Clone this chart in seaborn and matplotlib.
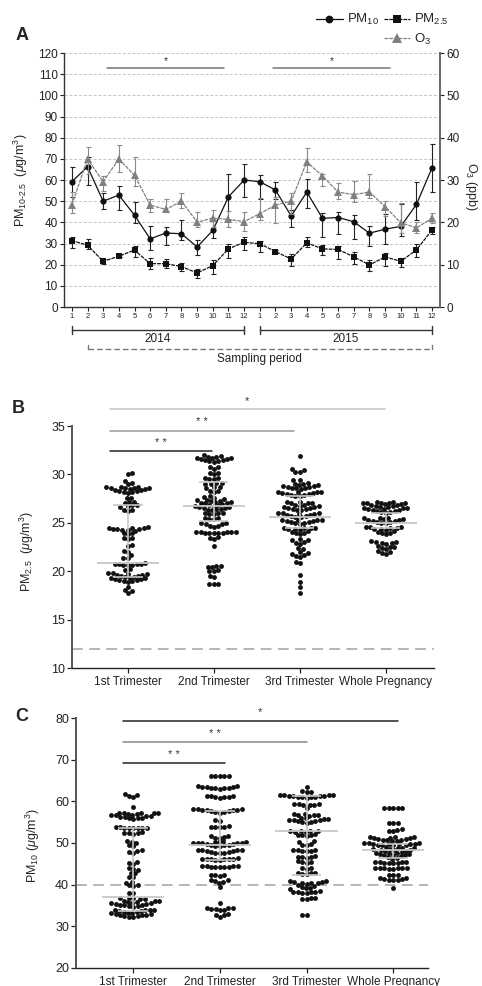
import warnings
warnings.filterwarnings('ignore')
import matplotlib
matplotlib.use('Agg')
import matplotlib.pyplot as plt
from matplotlib.lines import Line2D
import numpy as np
import pandas as pd
import seaborn as sns

# ---------------- Panel A data ----------------
months = list(range(1, 25))
month_labels = [str(m) for m in range(1, 13)] * 2
pm10 = [59.2, 66.3, 50.0, 52.9, 43.4, 32.2, 35.0, 34.6, 28.4, 36.2, 52.1, 60.0,
        59.2, 55.3, 43.0, 54.3, 41.9, 42.3, 40.3, 34.9, 36.8, 38.1, 48.5, 65.9]
pm10_lo = [52, 57.5, 46.5, 46, 39.5, 27, 29.5, 31.5, 24.5, 32.5, 41, 52,
           51, 51, 38, 47, 33, 34.5, 32, 29, 30, 33.5, 41, 54.5]
pm10_hi = [66, 71, 54, 57, 49.5, 38.5, 38, 41, 31.5, 41, 63, 67.5,
           62.5, 59, 46, 60.5, 44.5, 45, 43.5, 38.5, 44, 48.5, 59, 77]
pm25 = [31.4, 29.2, 21.6, 24.0, 26.9, 20.5, 20.5, 19.1, 16.1, 19.6, 27.5, 30.6,
        29.9, 26.2, 22.7, 30.3, 27.5, 27.2, 23.7, 19.9, 23.7, 21.6, 27.0, 36.5]
pm25_lo = [28, 27.5, 20.5, 23.5, 23.5, 18, 18.5, 17, 13.5, 15.5, 23, 27,
           26, 25.5, 19.5, 28.5, 24.5, 22.5, 20.5, 17, 19.5, 19, 23.5, 34.5]
pm25_hi = [33, 32, 22.5, 25, 29, 23, 22.5, 21, 18, 22, 30, 33,
           31, 27, 25, 33, 29.5, 29, 26, 22, 25.5, 23, 30, 38]
o3 = [24.1, 35.0, 29.6, 35.0, 31.1, 24.1, 23.05, 25.0, 20.05, 21.0, 20.7, 20.2,
      22.05, 24.1, 25.0, 34.3, 30.95, 27.15, 26.55, 27.15, 23.7, 19.9, 18.7, 21.0]
o3_lo = [22.2, 31.5, 27.5, 32.0, 28.5, 22.5, 22.5, 23.5, 18.8, 19.0, 18.8, 18.0,
         20.5, 19.8, 22.0, 32.0, 28.5, 25.5, 24.8, 25.8, 21.5, 17.5, 17.5, 19.8]
o3_hi = [27.2, 37.8, 31.0, 38.2, 35.5, 25.5, 25.5, 27.0, 22.5, 23.0, 22.8, 22.5,
         25.8, 26.0, 27.0, 37.5, 31.5, 29.2, 29.8, 31.5, 25.0, 24.5, 20.2, 22.2]

# ---------------- Panel B / C data ----------------
cats = ['1st Trimester', '2nd Trimester', '3rd Trimester', 'Whole Pregnancy']

b_t1 = [30.0, 30.1, 29.3, 29.1, 29.0,
        28.1, 28.15, 28.2, 28.25, 28.3, 28.35, 28.4, 28.45, 28.5, 28.55, 28.6, 28.62, 28.65, 28.68, 28.7, 28.7,
        27.6, 27.6, 27.2, 27.2, 27.0, 26.8, 26.8, 26.7, 26.6, 26.3, 26.3, 26.2,
        24.2, 24.3, 24.3, 24.35, 24.4, 24.4, 24.45, 24.5, 24.5, 24.6,
        23.9, 23.9, 23.8, 23.4, 23.4, 23.3, 22.7, 22.6, 22.1, 22.0, 21.7, 21.4, 21.4,
        20.6, 20.6, 20.65, 20.7, 20.7, 20.7, 20.75, 20.8,
        20.2, 20.1,
        18.9, 18.95, 19.0, 19.05, 19.1, 19.15, 19.2, 19.25, 19.3, 19.35, 19.4, 19.45, 19.5, 19.55,
        19.6, 19.65, 19.7, 19.75, 19.8, 19.8,
        18.4, 18.1, 18.0, 17.8]
b_t2 = [31.3, 31.35, 31.4, 31.45, 31.5, 31.55, 31.6, 31.65, 31.7, 31.75, 31.8, 31.85, 31.9, 32.0,
        30.8, 30.8, 30.6, 30.1, 30.1, 30.0, 29.6, 29.6, 29.5, 29.5, 29.1, 29.1, 29.0, 29.0,
        28.7, 28.7, 28.6, 28.3, 28.3, 28.2,
        27.0, 27.05, 27.1, 27.15, 27.2, 27.25, 27.3, 27.35, 27.4, 27.5, 27.6, 27.7, 27.8,
        26.3, 26.35, 26.4, 26.45, 26.5, 26.55, 26.6, 26.65, 26.7, 26.75, 26.8, 26.85, 26.9,
        26.0, 26.0, 26.0, 25.9, 25.9, 25.5, 25.5, 25.4, 25.4, 25.0, 25.0, 24.9, 24.9, 24.7, 24.7, 24.6,
        23.9, 23.95, 24.0, 24.0, 24.0, 24.05, 24.1, 24.1, 24.1, 24.1,
        23.5, 23.4, 23.3, 22.6,
        20.5, 20.5, 20.4, 20.4, 20.1, 20.0, 20.0, 19.5, 19.4, 18.7, 18.7, 18.7]
b_t3 = [31.9, 30.6, 30.5, 30.3, 30.3, 29.4, 29.4, 29.1,
        28.5, 28.55, 28.6, 28.65, 28.7, 28.75, 28.8, 28.85, 28.9, 28.95, 29.0, 29.0,
        27.75, 27.8, 27.85, 27.9, 27.95, 28.0, 28.05, 28.1, 28.15, 28.2, 28.2, 28.2,
        27.2, 27.2, 27.1, 27.0, 27.0,
        26.3, 26.35, 26.4, 26.45, 26.5, 26.55, 26.6, 26.65, 26.7, 26.75, 26.8, 26.8,
        25.6, 25.65, 25.7, 25.75, 25.8, 25.85, 25.9, 25.95, 26.0, 26.0, 26.0,
        24.9, 24.95, 25.0, 25.05, 25.1, 25.15, 25.2, 25.25, 25.3, 25.3, 25.3,
        23.8, 23.9, 24.0, 24.1, 24.2, 24.3, 24.35, 24.4, 24.45, 24.5, 24.5, 24.5,
        23.3, 23.2, 23.2, 23.0, 22.9, 22.8, 22.4, 22.3, 22.0, 21.9, 21.8, 21.7, 21.6, 21.5, 21.0, 20.9,
        19.6, 18.9, 18.4, 17.8]
b_all = [27.2, 27.2,
         26.6, 26.65, 26.7, 26.75, 26.8, 26.85, 26.9, 26.95, 27.0, 27.05, 27.1, 27.1, 27.1,
         26.05, 26.1, 26.15, 26.2, 26.25, 26.3, 26.35, 26.4, 26.45, 26.5, 26.5, 26.5,
         24.95, 25.0, 25.05, 25.1, 25.15, 25.2, 25.25, 25.3, 25.35, 25.4, 25.45, 25.5, 25.5,
         23.8, 23.9, 24.0, 24.1, 24.2, 24.3, 24.35, 24.4, 24.45, 24.5, 24.55, 24.6, 24.6,
         23.1, 23.0, 23.0, 22.9, 22.9, 22.8, 22.6, 22.5, 22.5, 22.4, 22.3, 22.1, 22.0, 21.9, 21.8]

c_t1 = [61.7, 61.5, 61.3, 61.1, 58.7,
        55.8, 55.9, 56.0, 56.1, 56.2, 56.3, 56.4, 56.5, 56.6, 56.7, 56.8, 56.9, 57.0, 57.1, 57.2, 57.2, 57.3, 57.3,
        53.5, 53.6, 53.6, 53.7, 53.7, 53.8, 53.8, 53.6,
        52.6, 52.5, 52.4, 52.3, 52.2,
        50.4, 50.2, 50.0, 49.4, 49.2, 48.2, 48.0, 47.9, 47.6,
        45.4, 45.2, 45.0, 44.0, 43.8, 43.5, 42.9, 42.7, 41.9, 41.8,
        40.7, 40.5, 39.9, 39.8, 39.7, 38.1, 38.0,
        36.8, 36.7, 36.7, 36.6, 36.5,
        34.7, 34.8, 34.9, 35.0, 35.1, 35.2, 35.3, 35.4, 35.5, 35.6, 35.7, 35.8, 35.9, 36.0, 36.0, 36.0,
        32.2, 32.3, 32.4, 32.5, 32.6, 32.7, 32.8, 32.9, 33.0, 33.1, 33.2, 33.3, 33.4, 33.5, 33.6,
        33.7, 33.8, 33.9, 34.0, 34.0]
c_t2 = [66.1, 66.1, 66.0, 66.0, 66.0,
        63.7, 63.6, 63.5, 63.4, 63.4, 63.3, 63.3, 63.2, 63.1, 63.0,
        61.3, 61.2, 61.2, 61.1, 61.1, 61.0, 60.9,
        57.3, 57.4, 57.5, 57.6, 57.7, 57.8, 57.9, 58.0, 58.0, 58.1, 58.1, 58.1,
        55.4, 55.3, 54.0, 53.9, 53.9, 53.8, 53.8,
        51.7, 51.6, 51.5, 51.3, 51.2, 50.4, 50.3, 50.3, 50.2,
        49.2, 49.3, 49.4, 49.5, 49.6, 49.7, 49.8, 49.9, 49.9, 50.0, 50.0, 50.0,
        47.5, 47.6, 47.7, 47.8, 47.9, 48.0, 48.1, 48.2, 48.2, 48.3, 48.3,
        46.0, 46.0, 46.1, 46.1, 46.1, 46.2, 46.2, 46.2, 46.3,
        44.2, 44.2, 44.3, 44.3, 44.3, 44.4, 44.4, 44.4, 44.5,
        42.4, 42.3, 42.2, 42.1, 41.1, 41.0, 40.9, 40.6, 40.5, 39.5, 35.5,
        34.4, 34.3, 34.3, 34.2, 34.2, 33.9, 33.8, 32.9, 32.8, 32.7, 32.3]
c_t3 = [63.5, 62.4, 62.3, 62.2,
        60.9, 61.0, 61.0, 61.1, 61.1, 61.2, 61.2, 61.3, 61.3, 61.4, 61.4, 61.5, 61.5,
        59.4, 59.3, 59.3, 59.2, 59.2, 59.1, 58.5,
        57.0, 56.9, 56.8, 56.7, 56.6, 56.5,
        54.9, 55.0, 55.1, 55.2, 55.3, 55.4, 55.5, 55.6, 55.7, 55.8, 55.9, 56.0,
        52.9, 52.9, 52.8, 52.8, 52.7, 52.7, 52.1, 52.0, 51.9, 51.8, 51.7,
        50.4, 50.3, 49.7, 49.6, 49.5, 48.3, 48.2, 48.2, 48.1, 48.1, 48.0,
        46.8, 46.7, 46.7, 46.6, 46.5, 45.6, 45.5, 45.4, 45.3,
        44.0, 43.9, 43.8, 42.8, 42.7, 42.7, 42.6, 42.5,
        38.9, 39.1, 39.3, 39.5, 39.7, 39.9, 40.1, 40.3, 40.4, 40.5, 40.6, 40.7, 40.8, 40.8,
        38.4, 38.3, 38.3, 38.2, 38.2, 38.1, 38.1,
        36.8, 36.7, 36.6, 36.5, 32.7, 32.6]
c_all = [58.5, 58.5, 58.4, 58.4, 58.4,
         54.9, 54.8, 54.8, 53.3, 53.2, 52.9, 52.8,
         50.4, 50.5, 50.6, 50.7, 50.8, 50.9, 51.0, 51.1, 51.2, 51.3, 51.4, 51.5, 51.5,
         49.4, 49.5, 49.55, 49.6, 49.65, 49.7, 49.75, 49.8, 49.85, 49.9, 49.95, 50.0,
         47.9, 48.0, 48.1, 48.2, 48.3, 48.4, 48.5, 48.6, 48.7, 48.8, 48.9, 49.0,
         46.2, 46.4, 46.6, 46.8, 47.0, 47.1, 47.2, 47.3, 47.4, 47.5, 47.6, 47.7,
         45.2, 45.2, 45.3, 45.3, 45.4, 45.4, 45.5, 45.5,
         43.8, 43.8, 43.9, 43.9, 44.0, 44.0, 44.0, 44.1,
         42.4, 42.3, 42.2, 41.6, 41.5, 41.4, 41.3, 41.2, 41.1, 41.0, 39.3]

# summary bars (lower, middle, upper) drawn in light grey
b_lo = [19.4, 25.2, 24.5, 24.5]
b_mid = [20.9, 26.7, 25.6, 25.0]
b_hi = [26.8, 29.2, 27.8, 26.0]
c_lo = [33.7, 46.0, 42.2, 46.5]
c_mid = [37.0, 49.5, 52.9, 48.3]
c_hi = [53.7, 57.6, 61.3, 49.8]

# ---------------- style ----------------
sns.set_theme(style='white')
plt.rcParams['font.family'] = ['Liberation Sans', 'DejaVu Sans']
plt.rcParams['mathtext.fontset'] = 'custom'
plt.rcParams['mathtext.rm'] = 'Liberation Sans'
plt.rcParams['mathtext.it'] = 'Liberation Sans:italic'
plt.rcParams['mathtext.bf'] = 'Liberation Sans:bold'

fig = plt.figure(figsize=(4.82, 9.86), dpi=100)

# ================= Panel A =================
axA = fig.add_axes([0.1328, 0.6886, 0.780, 0.2576])
axA2 = axA.twinx()
x = np.array(months)

sns.lineplot(x=x, y=pm25, ax=axA, color='#111111', marker='s', markersize=4.3,
             markeredgewidth=0, linewidth=0.9, linestyle=(0, (3, 0.8)), zorder=3)
h_pm25 = axA.lines[-1]
axA.errorbar(x, pm25, yerr=[np.array(pm25) - np.array(pm25_lo), np.array(pm25_hi) - np.array(pm25)],
             fmt='none', ecolor='#222222', elinewidth=0.8, capsize=1.8, capthick=0.8, zorder=2)
sns.lineplot(x=x, y=pm10, ax=axA, color='#111111', marker='o', markersize=4.5,
             markeredgewidth=0, linewidth=0.9, zorder=3)
h_pm10 = axA.lines[-1]
axA.errorbar(x, pm10, yerr=[np.array(pm10) - np.array(pm10_lo), np.array(pm10_hi) - np.array(pm10)],
             fmt='none', ecolor='#222222', elinewidth=0.8, capsize=1.8, capthick=0.8, zorder=2)

sns.lineplot(x=x, y=o3, ax=axA2, color='#808080', marker='^', markersize=5.2,
             markeredgewidth=0, linewidth=0.9, linestyle=(0, (3, 0.8)), zorder=3)
h_o3 = axA2.lines[-1]
axA2.errorbar(x, o3, yerr=[np.array(o3) - np.array(o3_lo), np.array(o3_hi) - np.array(o3)],
              fmt='none', ecolor='#8a8a8a', elinewidth=0.8, capsize=1.8, capthick=0.8, zorder=2)

axA.set_xlim(0.5, 24.5)
axA.set_ylim(0, 120)
axA2.set_ylim(0, 60)
axA.set_yticks(np.arange(0, 121, 10))
axA2.set_yticks(np.arange(0, 61, 10))
axA.set_xticks(months)
axA.set_xticklabels(month_labels)
for yv in range(10, 121, 10):
    axA.axhline(yv, color='#c4c4c4', lw=0.7, ls=(0, (3, 2)), zorder=0)
axA.tick_params(axis='y', direction='out', length=3, width=0.8, labelsize=8.5, pad=1.5,
                colors='#222222', left=True)
axA2.tick_params(axis='y', direction='out', length=3, width=0.8, labelsize=8.5, pad=1.5,
                 colors='#222222', right=True)
axA.tick_params(axis='x', direction='out', length=3, width=0.8, labelsize=5.5, pad=1.5,
                colors='#222222', bottom=True)
for s in ['top', 'right']:
    axA.spines[s].set_visible(False)
for s in ['top', 'left', 'bottom']:
    axA2.spines[s].set_visible(False)
axA.spines['left'].set_color('#333333')
axA.spines['bottom'].set_color('#333333')
axA2.spines['right'].set_color('#666666')
axA.spines['left'].set_linewidth(1.0)
axA.spines['bottom'].set_linewidth(1.0)
axA2.spines['right'].set_linewidth(1.4)
axA.set_xlabel('')
axA.set_ylabel(r'PM$_{10\text{-}2.5}$  ($\mu$g/m$^3$)', fontsize=9)
axA.yaxis.set_label_coords(-0.09, 0.5)
axA2.set_ylabel(r'O$_3$ (ppb)', fontsize=9, rotation=270, va='bottom')
axA2.yaxis.set_label_coords(1.062, 0.476)

# significance lines
for (x0, x1) in [(3.25, 10.7), (13.85, 21.3)]:
    axA.plot([x0, x1], [113, 113], color='#777777', lw=1.1, zorder=4)
    axA.annotate('*', xy=((x0 + x1) / 2, 113), xytext=(0, 1.5), textcoords='offset points',
                 ha='center', va='bottom', fontsize=7.5, color='#333333')

# year / sampling brackets below the axis
tr = axA.get_xaxis_transform()
for (x0, x1, lab) in [(1, 12, '2014'), (13, 24, '2015')]:
    axA.plot([x0, x1], [-0.09, -0.09], transform=tr, clip_on=False, color='#333333', lw=1.0)
    for xx in (x0, x1):
        axA.plot([xx, xx], [-0.075, -0.105], transform=tr, clip_on=False, color='#333333', lw=1.0)
    axA.text((x0 + x1) / 2, -0.125, lab, transform=tr, ha='center', va='center', fontsize=8.5,
             color='#222222')
axA.plot([2, 24], [-0.165, -0.165], transform=tr, clip_on=False, color='#777777', lw=1.0,
         ls=(0, (4, 2.2)))
for xx in (2, 24):
    axA.plot([xx, xx], [-0.165, -0.148], transform=tr, clip_on=False, color='#777777', lw=1.0)
axA.text(13, -0.203, 'Sampling period', transform=tr, ha='center', va='center', fontsize=8.5,
         color='#222222')

# legend
blank = Line2D([], [], lw=0, marker=None)
fig.legend(handles=[h_pm10, blank, h_pm25, h_o3],
           labels=[r'PM$_{10}$', '', r'PM$_{2.5}$', r'O$_3$'],
           ncol=2, loc='upper right', bbox_to_anchor=(0.95, 0.997), frameon=False,
           fontsize=9.5, handlelength=2.0, handletextpad=0.3, columnspacing=0.4,
           labelspacing=0.35, borderpad=0.2, markerscale=1.25)

fig.text(0.046, 0.9645, 'A', fontsize=13, fontweight='bold', ha='center', va='center')


# ================= Panels B and C =================
def make_df(groups):
    return pd.DataFrame({'group': np.repeat(cats, [len(g) for g in groups]),
                         'val': np.concatenate([np.asarray(g, float) for g in groups])})


dfB = make_df([b_t1, b_t2, b_t3, b_all])
dfC = make_df([c_t1, c_t2, c_t3, c_all])

LAYOUT_SIZE = 3.05
SHOW_SIZE = 3.5

axB = fig.add_axes([0.1494, 0.3225, 0.751, 0.2454])
axC = fig.add_axes([0.1577, 0.0183, 0.730, 0.2535])


def panel(ax, df, lo, mid, hi, ylim, yticks, refline, xlim, ylabel, bars):
    sns.swarmplot(data=df, x='group', y='val', order=cats, color='#111111', size=LAYOUT_SIZE,
                  linewidth=0, ax=ax, zorder=2)
    ax.set_xlim(*xlim)
    ax.set_ylim(*ylim)
    ax.set_yticks(yticks)
    ax.axhline(refline, color='#b0b0b0', lw=1.3, ls=(0, (6, 3.5)), zorder=1)
    for i in range(4):
        ax.vlines(i, lo[i], hi[i], color='#c8c8c8', lw=1.2, zorder=5)
        ax.hlines(mid[i], i - 0.36, i + 0.36, color='#c8c8c8', lw=1.3, zorder=5)
        ax.hlines([lo[i], hi[i]], i - 0.17, i + 0.17, color='#c8c8c8', lw=1.2, zorder=5)
    for (x0, x1, y, col, star) in bars:
        ax.plot([x0, x1], [y, y], color=col, lw=1.1, clip_on=False, zorder=4)
        ax.annotate(star, xy=((x0 + x1) / 2, y), xytext=(0, 2.5), textcoords='offset points',
                    ha='center', va='bottom', fontsize=8, color='#333333', annotation_clip=False)
    for s in ['top', 'right']:
        ax.spines[s].set_visible(False)
    ax.spines['left'].set_color('#555555')
    ax.spines['left'].set_linewidth(1.4)
    ax.spines['bottom'].set_color('#222222')
    ax.spines['bottom'].set_linewidth(1.0)
    ax.tick_params(axis='y', direction='out', length=3.5, width=0.9, labelsize=9, pad=1.5,
                   colors='#222222', left=True)
    ax.tick_params(axis='x', direction='out', length=3.5, width=0.9, labelsize=8.5, pad=2,
                   colors='#222222', bottom=True)
    ax.set_xlabel('')
    ax.set_ylabel(ylabel, fontsize=9)


panel(axB, dfB, b_lo, b_mid, b_hi, (10, 35), np.arange(10, 36, 5), 12, (-0.65, 3.56),
      r'PM$_{2.5}$  ($\mu$g/m$^3$)',
      [(-0.21, 2.99, 36.75, '#c4c4c4', '*'),
       (-0.21, 1.93, 34.5, '#999999', '* *'),
       (-0.21, 0.98, 32.4, '#222222', '* *')])
axB.yaxis.set_label_coords(-0.1, 0.483)

panel(axC, dfC, c_lo, c_mid, c_hi, (20, 80), np.arange(20, 81, 10), 40, (-0.66, 3.40),
      r'PM$_{10}$ ($\mu$g/m$^3$)',
      [(-0.12, 3.05, 79.3, '#222222', '*'),
       (-0.12, 2.0, 74.2, '#888888', '* *'),
       (-0.12, 1.06, 69.2, '#222222', '* *')])
axC.yaxis.set_label_coords(-0.097, 0.49)

fig.text(0.037, 0.586, 'B', fontsize=13, fontweight='bold', ha='center', va='center')
fig.text(0.045, 0.273, 'C', fontsize=13, fontweight='bold', ha='center', va='center')

# compute swarm layout with compact markers, then freeze it and enlarge the dots
fig.canvas.draw()
for ax in (axB, axC):
    for coll in ax.collections:
        if 'draw' in coll.__dict__:
            del coll.__dict__['draw']
            coll.set_sizes([SHOW_SIZE ** 2])

fig.savefig('out.png', dpi=100)
